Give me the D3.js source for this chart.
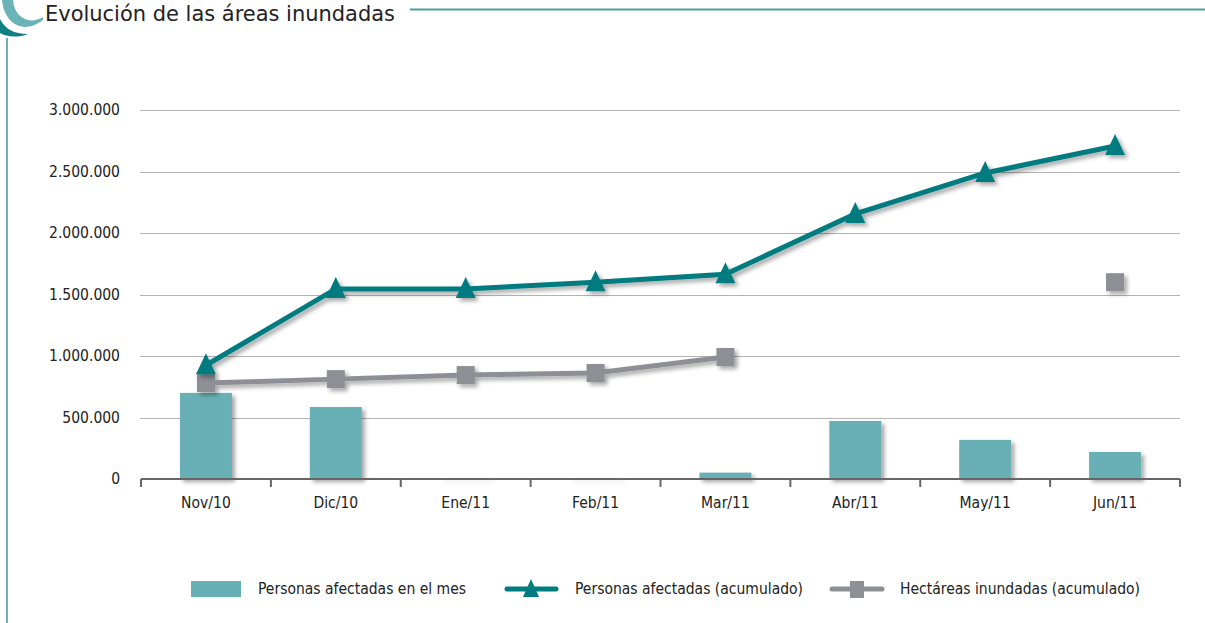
<!DOCTYPE html>
<html><head><meta charset="utf-8">
<script src="https://cdn.jsdelivr.net/npm/d3@7"></script>
<style>
html,body{margin:0;padding:0;background:#fff;}
text{font-family:"Liberation Sans Narrow","DejaVu Sans Condensed","Roboto Condensed",sans-serif;fill:#222;}
</style></head>
<body>
<svg id="c" width="1205" height="623"></svg>
<script>
const categories = ["Nov/10","Dic/10","Ene/11","Feb/11","Mar/11","Abr/11","May/11","Jun/11"];
const monthly = [700000, 585000, 4000, 4000, 52000, 472000, 318000, 220000];
const cumulPeople = [925000, 1545000, 1545000, 1600000, 1665000, 2155000, 2488000, 2707000];
const cumulHectares = [780000, 812000, 845000, 862000, 992000, null, null, 1600000];
const yTicks = [0, 500000, 1000000, 1500000, 2000000, 2500000, 3000000];
const seriesNames = ["Personas afectadas en el mes","Personas afectadas (acumulado)","Hectáreas inundadas (acumulado)"];
const title = "Evolución de las áreas inundadas";

const barColor = "#67b0b5", tealColor = "#007b80", grayColor = "#8e8f94";
const svg = d3.select("#c");

const defs = svg.append("defs");
const f = defs.append("filter").attr("id","sh").attr("x","-30%").attr("y","-30%").attr("width","160%").attr("height","160%");
f.append("feDropShadow").attr("dx",3).attr("dy",3).attr("stdDeviation",2).attr("flood-color","#000").attr("flood-opacity",0.35);

// decorations
svg.append("path").attr("d","M 2 0 C 4 22, 22 36, 43 20 L 43 17 C 28 26, 14 16, 13 0 Z").attr("fill","#6bb3b8");
svg.append("path").attr("d","M 0 19 C 5 29, 14 34, 28 34 C 18 38, 6 37, 0 33 Z").attr("fill","#0f7f84");
svg.append("line").attr("x1",7).attr("x2",7).attr("y1",38).attr("y2",623).attr("stroke","#3f9399").attr("stroke-width",1.5);
svg.append("line").attr("x1",410).attr("x2",1205).attr("y1",9.5).attr("y2",9.5).attr("stroke","#4a9fa4").attr("stroke-width",2);
svg.append("text").attr("x",45).attr("y",21).attr("font-size",22).attr("textLength",350).attr("lengthAdjust","spacingAndGlyphs").attr("fill","#111").text(title);

const x = d3.scaleBand().domain(categories).range([141,1180]).paddingInner(0.6).paddingOuter(0.3);
const y = d3.scaleLinear().domain([0,3000000]).range([479,110]);
const loc = d3.formatLocale({decimal:",",thousands:".",grouping:[3],currency:["",""]});
const fmt = loc.format(",");
const cx = c => x(c) + x.bandwidth()/2;

// gridlines
svg.append("g").selectAll("line").data(yTicks.filter(d=>d>0)).join("line")
  .attr("x1",140).attr("x2",1180).attr("y1",d=>Math.round(y(d))+0.5).attr("y2",d=>Math.round(y(d))+0.5)
  .attr("stroke","#b3b3b3").attr("stroke-width",1);

// y labels
svg.append("g").selectAll("text").data(yTicks).join("text")
  .attr("x",120).attr("y",d=>y(d)+5).attr("text-anchor","end").attr("font-size",15.5).text(d=>fmt(d));

// bars
svg.append("g").attr("filter","url(#sh)").selectAll("rect").data(monthly).join("rect")
  .attr("x",(d,i)=>x(categories[i])).attr("width",x.bandwidth())
  .attr("y",d=>y(d)).attr("height",d=>y(0)-y(d)).attr("fill",barColor);

// x axis
const axisG = svg.append("g");
axisG.append("line").attr("x1",141).attr("x2",1180).attr("y1",479).attr("y2",479).attr("stroke","#666").attr("stroke-width",2);
const bounds = categories.map(c => x(c) - x.step()*0.3).concat([x(categories[categories.length-1]) + x.bandwidth() + x.step()*0.3]);
axisG.selectAll("line.t").data(bounds).join("line").attr("class","t")
  .attr("x1",d=>d).attr("x2",d=>d).attr("y1",479).attr("y2",487).attr("stroke","#666").attr("stroke-width",2);
axisG.selectAll("text").data(categories).join("text")
  .attr("x",d=>cx(d)).attr("y",508).attr("text-anchor","middle").attr("font-size",15.5).text(d=>d);

// gray line
const grayG = svg.append("g").attr("filter","url(#sh)");
const lineGen = d3.line().defined(d=>d.v!=null).x(d=>cx(d.c)).y(d=>y(d.v));
const hData = categories.map((c,i)=>({c, v:cumulHectares[i]}));
grayG.append("path").datum(hData).attr("d",lineGen).attr("fill","none").attr("stroke",grayColor).attr("stroke-width",5);
grayG.selectAll("rect").data(hData.filter(d=>d.v!=null)).join("rect")
  .attr("x",d=>cx(d.c)-9).attr("y",d=>y(d.v)-9).attr("width",18).attr("height",18).attr("fill",grayColor);

// teal line
const tealG = svg.append("g").attr("filter","url(#sh)");
const pData = categories.map((c,i)=>({c, v:cumulPeople[i]}));
tealG.append("path").datum(pData).attr("d",lineGen).attr("fill","none").attr("stroke",tealColor).attr("stroke-width",5);
const tri = "M 0 -12 L 10 9 L -10 9 Z";
tealG.selectAll("path.m").data(pData).join("path").attr("class","m")
  .attr("transform",d=>`translate(${cx(d.c)},${y(d.v)})`).attr("d",tri).attr("fill",tealColor);

// legend
const lg = svg.append("g");
lg.append("rect").attr("x",191).attr("y",581).attr("width",50).attr("height",16).attr("fill",barColor);
lg.append("text").attr("x",258).attr("y",594).attr("font-size",15.5).text(seriesNames[0]);
lg.append("line").attr("x1",507).attr("x2",556).attr("y1",589).attr("y2",589).attr("stroke",tealColor).attr("stroke-width",5).attr("stroke-linecap","round");
lg.append("path").attr("transform","translate(531,589)").attr("d","M 0 -10 L 8 8 L -8 8 Z").attr("fill",tealColor);
lg.append("text").attr("x",575).attr("y",594).attr("font-size",15.5).text(seriesNames[1]);
lg.append("line").attr("x1",832).attr("x2",882).attr("y1",589).attr("y2",589).attr("stroke",grayColor).attr("stroke-width",5).attr("stroke-linecap","round");
lg.append("rect").attr("x",850).attr("y",581).attr("width",14).attr("height",17).attr("fill",grayColor);
lg.append("text").attr("x",900).attr("y",594).attr("font-size",15.5).text(seriesNames[2]);
</script>
</body></html>
